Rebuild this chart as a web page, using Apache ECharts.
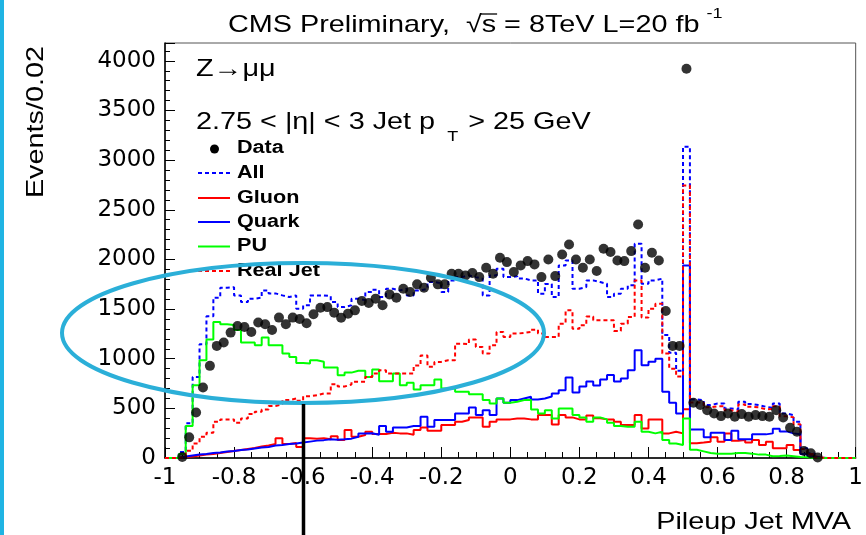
<!DOCTYPE html>
<html>
<head>
<meta charset="utf-8">
<script src="https://cdn.jsdelivr.net/npm/echarts@6/dist/echarts.min.js"></script>
<style>
  html, body { margin: 0; padding: 0; background: #fff; }
  #chart { width: 866px; height: 535px; }
</style>
</head>
<body>
<div id="chart"></div>
<script>
// Pileup Jet MVA, 100 bins of width 0.02 from -1 to 1
const binLow = -1;
const binWidth = 0.02;

const xTicks = [-1, -0.8, -0.6, -0.4, -0.2, 0, 0.2, 0.4, 0.6, 0.8, 1];
const yTicks = [0, 500, 1000, 1500, 2000, 2500, 3000, 3500, 4000];

// Observed events per bin (null = empty bin, no marker)
const dataCounts = [
  null, null, 10, 208, 459, 710, 928, 1129, 1163, 1263,
  1330, 1320, 1270, 1364, 1347, 1290, 1414, 1347, 1414, 1400,
  1357, 1447, 1514, 1520, 1464, 1412, 1454, 1487, 1581, 1561,
  1605, 1538, 1648, 1615, 1705, 1672, 1749, 1715, 1816, 1749,
  1749, 1856, 1856, 1839, 1863, 1822, 1916, 1856, 2017, 1973,
  1873, 1940, 1983, 1950, 1822, 2000, 1832, 2050, 2151, 2000,
  1916, 2000, 1883, 2107, 2074, 1990, 1983, 2084, 2352, 1916,
  2067, 1990, 1481, 1129, 1129, 3920, 556, 533, 482, 449,
  422, 449, 415, 442, 415, 432, 422, 415, 482, 409,
  305, 265, 70, 47, 5, null, null, null, null, null
];

// Simulation: all jets
const allJets = [
  0, 0, 60, 349, 817, 1146, 1427, 1615, 1715, 1720,
  1638, 1571, 1605, 1615, 1688, 1658, 1638, 1621, 1638, 1504,
  1538, 1638, 1638, 1630, 1571, 1520, 1538, 1605, 1590, 1672,
  1695, 1621, 1705, 1688, 1705, 1638, 1688, 1705, 1772, 1760,
  1672, 1789, 1822, 1839, 1822, 1806, 1638, 1839, 1906, 1822,
  1830, 1809, 1789, 1789, 1655, 1752, 1621, 1940, 1990, 1705,
  1722, 1789, 1772, 1755, 1621, 1655, 1705, 1739, 2157, 1755,
  1789, 1806, 1240, 1060, 880, 3136, 590, 583, 533, 549,
  549, 499, 489, 566, 543, 533, 516, 505, 549, 449,
  432, 365, 97, 47, 5, 0, 0, 0, 0, 0
];

// Simulation: gluon jets
const gluonJets = [
  0, 0, 10, 15, 25, 35, 40, 50, 60, 70,
  80, 90, 100, 115, 125, 140, 200, 140, 150, 110,
  200, 195, 200, 190, 220, 181, 281, 214, 231, 265,
  241, 241, 255, 248, 248, 235, 281, 308, 275, 275,
  332, 332, 365, 382, 409, 409, 315, 365, 389, 389,
  399, 399, 389, 389, 432, 432, 338, 432, 409, 389,
  389, 429, 400, 389, 389, 365, 332, 332, 432, 298,
  389, 389, 248, 265, 248, 490, 148, 155, 164, 208,
  164, 248, 174, 181, 155, 181, 131, 164, 97, 97,
  131, 80, 40, 20, 3, 0, 0, 0, 0, 0
];

// Simulation: quark jets
const quarkJets = [
  0, 0, 15, 25, 35, 40, 50, 55, 65, 70,
  80, 85, 95, 105, 110, 125, 130, 140, 145, 155,
  165, 175, 180, 190, 185, 188, 195, 214, 248, 250,
  235, 322, 265, 308, 308, 322, 322, 415, 315, 382,
  382, 382, 449, 449, 509, 432, 482, 432, 600, 556,
  583, 600, 616, 590, 600, 620, 650, 683, 810, 660,
  720, 770, 730, 790, 837, 770, 800, 885, 1085, 935,
  970, 1000, 667, 556, 449, 1940, 288, 288, 208, 255,
  255, 181, 275, 188, 188, 238, 238, 248, 295, 268,
  248, 240, 40, 13, 3, 0, 0, 0, 0, 0
];

// Simulation: pileup jets
const puJets = [
  0, 0, 40, 322, 734, 985, 1193, 1370, 1347, 1340,
  1290, 1163, 1163, 1136, 1213, 1136, 1136, 1052, 1018, 958,
  951, 985, 970, 911, 911, 834, 860, 878, 878, 817,
  891, 774, 774, 851, 734, 757, 690, 734, 734, 790,
  700, 700, 667, 667, 643, 643, 583, 549, 600, 556,
  566, 583, 583, 489, 449, 482, 399, 499, 499, 432,
  409, 365, 409, 389, 355, 322, 315, 315, 365, 265,
  248, 265, 181, 147, 131, 399, 84, 67, 50, 44,
  44, 44, 50, 50, 44, 34, 34, 17, 20, 24,
  17, 10, 7, 0, 0, 0, 0, 0, 0, 0
];

// Simulation: real (non-pileup) jets
const realJets = [
  0, 0, 13, 73, 147, 214, 255, 365, 389, 389,
  355, 399, 442, 466, 489, 523, 543, 583, 600, 576,
  623, 633, 650, 650, 744, 720, 740, 767, 767, 817,
  850, 884, 851, 851, 851, 851, 931, 1032, 918, 968,
  985, 985, 1152, 1146, 1193, 1119, 1052, 1136, 1270, 1220,
  1253, 1260, 1270, 1293, 1253, 1220, 1220, 1353, 1487, 1303,
  1337, 1424, 1387, 1387, 1387, 1280, 1353, 1420, 1789, 1414,
  1504, 1554, 1052, 900, 820, 2744, 560, 560, 510, 520,
  520, 480, 465, 540, 515, 510, 490, 495, 520, 420,
  410, 340, 90, 40, 5, 0, 0, 0, 0, 0
];

// ---- helpers -------------------------------------------------------------
function stepOutline(values) {
  const pts = [];
  values.forEach((v, i) => {
    const lo = binLow + i * binWidth;
    pts.push([lo, v], [lo + binWidth, v]);
  });
  return pts;
}
function binMarkers(values) {
  const pts = [];
  values.forEach((v, i) => {
    if (v !== null) pts.push([binLow + (i + 0.5) * binWidth, v]);
  });
  return pts;
}
const measureCtx = document.createElement('canvas').getContext('2d');
function textWidth(str, font) {
  measureCtx.font = font;
  return measureCtx.measureText(str).width;
}
function fmtTick(v) { return String(Number(v.toFixed(2))); }

const STRETCH = 1.2;
const SANS = '"Liberation Sans", Arial, sans-serif';
const fontMain = '24px ' + SANS;
const fontSmall = '15px ' + SANS;
const fontLegend = 'bold 18px ' + SANS;

function label(x, y, text, font, extra) {
  return Object.assign({
    type: 'text', x: x, y: y, scaleX: STRETCH, z: 50,
    style: {
      text: text, font: font, fill: '#000',
      textAlign: 'left', textVerticalAlign: 'middle',
      align: 'left', verticalAlign: 'middle'
    }
  }, extra || {});
}
function rightLabel(x, y, text, font, rotation) {
  return {
    type: 'text', x: x, y: y, scaleX: STRETCH, rotation: rotation || 0, z: 50,
    style: {
      text: text, font: font, fill: '#000',
      textAlign: 'right', textVerticalAlign: 'middle',
      align: 'right', verticalAlign: 'middle'
    }
  };
}

// ---- annotation text layout ---------------------------------------------
const titleX = 228, titleY = 25;
const titleMain = 'CMS Preliminary,  \u221As = 8TeV L=20 fb';
const titleW = textWidth(titleMain, fontMain) * STRETCH;
const rootPrefixW = textWidth('CMS Preliminary,  \u221A', fontMain) * STRETCH;
const sW = textWidth('s', fontMain) * STRETCH;

const cutX = 196, cutY = 122;
const cutMain = '2.75 < |\u03B7| < 3 Jet p';
const cutW = textWidth(cutMain, fontMain) * STRETCH;
const subX = cutX + cutW + 12;
const subW = textWidth('T', fontSmall) * STRETCH;

const legendRows = [
  { name: 'Data', y: 148.5 },
  { name: 'All', y: 173, color: '#0000ff', dash: [4, 3] },
  { name: 'Gluon', y: 198, color: '#ff0000' },
  { name: 'Quark', y: 222, color: '#0000ff' },
  { name: 'PU', y: 246.5, color: '#00ff00' },
  { name: 'Real Jet', y: 271, color: '#ff0000', dash: [4, 3] }
];

const graphics = [
  { type: 'rect', shape: { x: 0, y: 0, width: 4, height: 535 }, style: { fill: '#1fb4e3' }, z: 60 },
  label(titleX, titleY, titleMain, fontMain),
  { type: 'line', z: 50, shape: { x1: titleX + rootPrefixW - 1, y1: 14, x2: titleX + rootPrefixW + sW + 1, y2: 14 },
    style: { stroke: '#000', lineWidth: 1.3 } },
  label(titleX + titleW + 7, 14, '-1', fontSmall),
  label(cutX, 69, 'Z\u2192\u03BC\u03BC', fontMain),
  label(cutX, cutY, cutMain, fontMain),
  label(subX, cutY + 15, 'T', fontSmall),
  label(subX + subW + 10, cutY, '> 25 GeV', fontMain),
  rightLabel(36, 46, 'Events/0.02', fontMain, Math.PI / 2),
  rightLabel(851, 522, 'Pileup Jet MVA', fontMain),
  { type: 'ellipse', z: 70, shape: { cx: 303, cy: 333, rx: 241, ry: 70 },
    style: { fill: 'none', stroke: '#2bafd8', lineWidth: 4 } },
  { type: 'line', z: 70, shape: { x1: 303.5, y1: 404, x2: 303.5, y2: 535 },
    style: { stroke: '#000', lineWidth: 3.5 } }
];

legendRows.forEach(row => {
  if (row.name === 'Data') {
    graphics.push({ type: 'circle', z: 50, shape: { cx: 214.5, cy: row.y + 0.5, r: 4.5 }, style: { fill: '#000' } });
  } else {
    graphics.push({ type: 'line', z: 50, shape: { x1: 198, y1: row.y, x2: 230, y2: row.y },
      style: { stroke: row.color, lineWidth: 2, lineDash: row.dash || null } });
  }
  graphics.push(label(237, row.y, row.name, fontLegend));
});

// ---- chart ---------------------------------------------------------------
function histSeries(name, values, color, dashed) {
  return {
    type: 'line', name: name, data: stepOutline(values),
    symbol: 'none', silent: true, animation: false,
    lineStyle: { color: color, width: 2, type: dashed ? [4, 3] : 'solid' },
    itemStyle: { color: color }
  };
}

const chart = echarts.init(document.getElementById('chart'), null, { renderer: 'canvas' });
chart.setOption({
  animation: false,
  backgroundColor: '#fff',
  grid: { left: 165, right: 7, top: 43, bottom: 77, show: true, borderColor: '#555', borderWidth: 1 },
  xAxis: {
    type: 'value', min: -1, max: 1, interval: 0.2,
    axisLine: { show: true, onZero: false, lineStyle: { color: '#000', width: 1.5 } },
    axisTick: { show: true, inside: true, length: 11, lineStyle: { color: '#000', width: 1 } },
    minorTick: { show: true, splitNumber: 4, length: 6, lineStyle: { color: '#000', width: 1 } },
    splitLine: { show: false },
    axisLabel: {
      color: '#000', fontFamily: '"DejaVu Sans", sans-serif', fontSize: 23, margin: 9,
      showMinLabel: true, showMaxLabel: true, hideOverlap: false,
      formatter: v => xTicks.some(t => Math.abs(t - v) < 1e-6) ? fmtTick(v) : ''
    }
  },
  yAxis: {
    type: 'value', min: 0, max: 4180, interval: 500,
    axisLine: { show: true, onZero: false, lineStyle: { color: '#000', width: 1.5 } },
    axisTick: { show: true, inside: true, length: 10, lineStyle: { color: '#000', width: 1 } },
    minorTick: { show: true, splitNumber: 5, length: 5, lineStyle: { color: '#000', width: 1 } },
    splitLine: { show: false },
    axisLabel: {
      color: '#000', fontFamily: '"DejaVu Sans", sans-serif', fontSize: 23, margin: 9,
      formatter: v => yTicks.some(t => Math.abs(t - v) < 1e-6) ? String(v) : ''
    }
  },
  series: [
    histSeries('All', allJets, '#0000ff', true),
    histSeries('Gluon', gluonJets, '#ff0000', false),
    histSeries('Quark', quarkJets, '#0000ff', false),
    histSeries('PU', puJets, '#00ff00', false),
    histSeries('Real Jet', realJets, '#ff0000', true),
    {
      type: 'scatter', name: 'Data', data: binMarkers(dataCounts),
      symbol: 'circle', symbolSize: 10, silent: true, z: 5,
      itemStyle: { color: '#000' }
    }
  ],
  graphic: graphics
});
</script>
</body>
</html>
